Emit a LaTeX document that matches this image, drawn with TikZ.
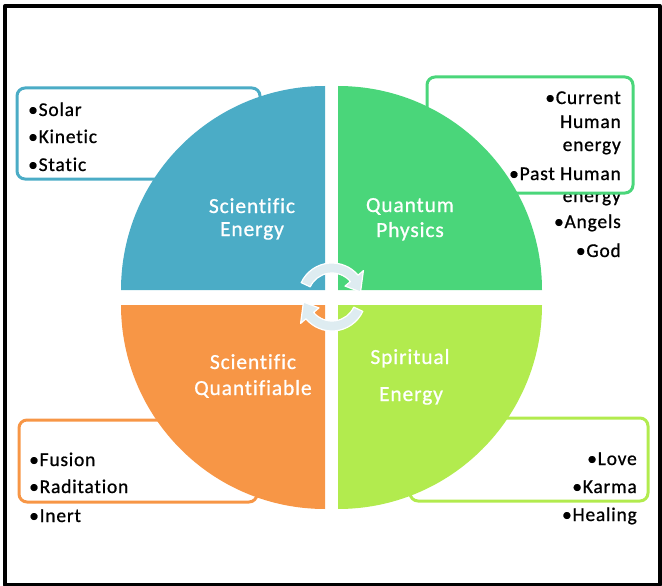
\documentclass[tikz,border=0pt]{standalone}
\usepackage{fontspec}
\usetikzlibrary{calc}
\setmainfont[LetterSpace=4,FakeBold=0.8,Ligatures=CommonOff]{Carlito}
\definecolor{aqua}{RGB}{75,172,198}
\definecolor{leaf}{RGB}{74,214,122}
\definecolor{peach}{RGB}{247,150,70}
\definecolor{lime}{RGB}{178,235,78}
\definecolor{mist}{RGB}{222,236,241}
\begin{document}
\begin{tikzpicture}[x=1pt,y=-1pt,line join=round,line cap=round,
	item/.style={inner sep=0pt,font=\fontsize{19.5}{23}\selectfont},
	lbl/.style={inner sep=0pt,anchor=base,text=white,font=\fontsize{21.5}{25}\selectfont},
	box/.style={line width=3pt,rounded corners=8pt},
	turn/.style={fill=mist,draw=white,line width=1.2pt}]
	\def\r{204}
	\useasboundingbox (0,0) rectangle (662,586);
	\draw[line width=4pt] (5,6) rectangle (659.5,584.5);
	% lists beside the circle
	\foreach \y/\t [count=\i] in {116/Solar,143/Kinetic,171/Static}
		\node[item,anchor=base west] (tl\i) at (28,\y) {•\t};
	\foreach \y/\t [count=\i] in {104/•Current,128/Human,151/energy,180/•Past Human,202/energy,228/•Angels,257/•God}
		\node[item,anchor=base east] (tr\i) at (621,\y) {\t};
	\foreach \y/\t [count=\i] in {466/Fusion,493/Raditation,522/Inert}
		\node[item,anchor=base west] (bl\i) at (29,\y) {•\t};
	\foreach \y/\t [count=\i] in {465/Love,493/Karma,521/Healing}
		\node[item,anchor=base east] (br\i) at (637,\y) {•\t};
	\draw[box,aqua] (17,88) rectangle (260,179);
	\draw[box,leaf] (427,77) rectangle (633,193);
	\draw[box,peach] (19,420) rectangle (257,502);
	\draw[box,lime] (410,418) rectangle (648,501);
	% the four quarters
	\fill[aqua] (325,290) -- ++(-\r,0) arc[start angle=180,end angle=270,radius=\r] -- cycle;
	\fill[leaf] (338,290) -- ++(0,-\r) arc[start angle=270,end angle=360,radius=\r] -- cycle;
	\fill[lime] (338,305) -- ++(\r,0) arc[start angle=0,end angle=90,radius=\r] -- cycle;
	\fill[peach] (325,305) -- ++(0,\r) arc[start angle=90,end angle=180,radius=\r] -- cycle;
	\foreach \x/\y/\t [count=\i] in {252/213/Scientific,252/236/Energy,410/212/Quantum,410/237/Physics,
		253/369/Scientific,253/395/Quantifiable,410/364/Spiritual,411/401/Energy}
		\node[lbl] (q\i) at (\x,\y) {\t};
	% turning arrows in the middle
	\coordinate (c) at (332,297);
	\draw[turn] ($(c)+(-155:34)$) arc[start angle=-155,end angle=-40,radius=34] -- ($(c)+(-40:41)$)
		-- ($(c)+(-10:29)$) -- ($(c)+(-40:17)$) -- ($(c)+(-40:24)$) arc[start angle=-40,end angle=-155,radius=24] -- cycle;
	\draw[turn] ($(c)+(25:34)$) arc[start angle=25,end angle=140,radius=34] -- ($(c)+(140:41)$)
		-- ($(c)+(170:29)$) -- ($(c)+(140:17)$) -- ($(c)+(140:24)$) arc[start angle=140,end angle=25,radius=24] -- cycle;
\end{tikzpicture}
\end{document}
